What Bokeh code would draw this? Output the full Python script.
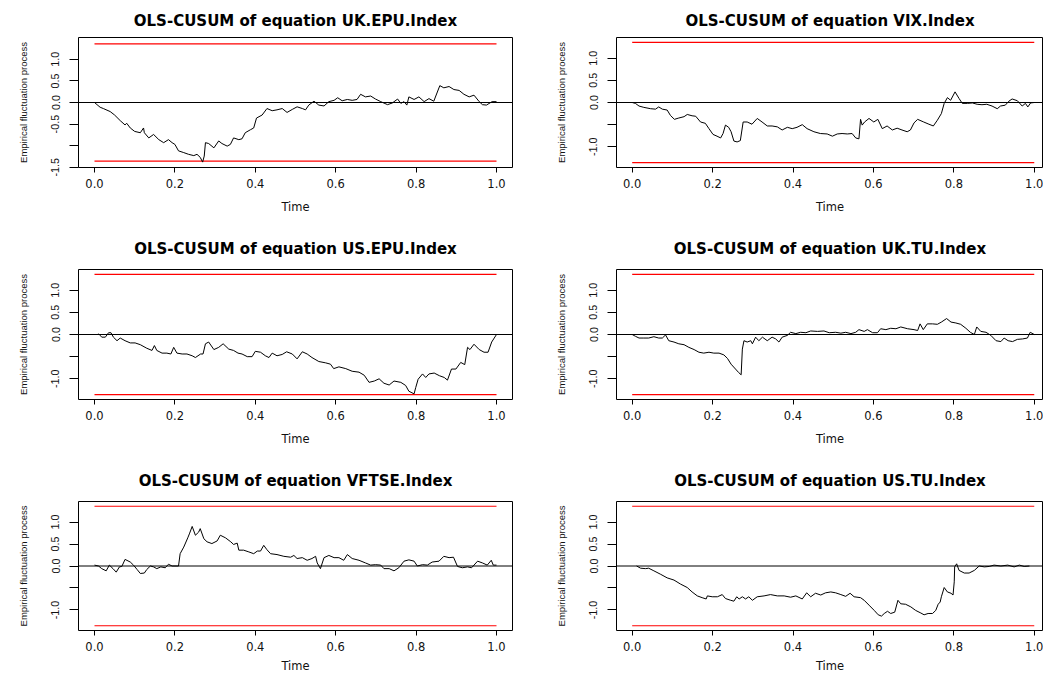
from bokeh.plotting import figure
from bokeh.layouts import column, row
from bokeh.models import FixedTicker, PrintfTickFormatter, Span, Range1d
from bokeh.embed import file_html
from bokeh.resources import INLINE

# ---------------- data ----------------
titles = ["OLS-CUSUM of equation UK.EPU.Index", "OLS-CUSUM of equation VIX.Index",
          "OLS-CUSUM of equation US.EPU.Index", "OLS-CUSUM of equation UK.TU.Index",
          "OLS-CUSUM of equation VFTSE.Index", "OLS-CUSUM of equation US.TU.Index"]
x_ticks = [0.0, 0.2, 0.4, 0.6, 0.8, 1.0]
boundary_t = [0.0, 1.0]
boundary_upper = [1.358, 1.358]
boundary_lower = [-1.358, -1.358]

t1 = [0.000, 0.014, 0.022, 0.039, 0.050, 0.064, 0.076, 0.080, 0.089, 0.100,
      0.114, 0.122, 0.124, 0.135, 0.147, 0.160, 0.172, 0.184, 0.193, 0.200,
      0.209, 0.222, 0.234, 0.247, 0.255, 0.263, 0.269, 0.273, 0.276, 0.284,
      0.297, 0.309, 0.317, 0.330, 0.338, 0.346, 0.359, 0.367, 0.375, 0.388,
      0.396, 0.403, 0.417, 0.429, 0.442, 0.454, 0.467, 0.479, 0.492, 0.504,
      0.517, 0.525, 0.533, 0.546, 0.558, 0.571, 0.583, 0.596, 0.605, 0.616,
      0.629, 0.641, 0.653, 0.662, 0.674, 0.687, 0.699, 0.712, 0.729, 0.741,
      0.754, 0.762, 0.770, 0.777, 0.782, 0.795, 0.807, 0.820, 0.832, 0.844,
      0.859, 0.869, 0.882, 0.894, 0.907, 0.919, 0.932, 0.944, 0.957, 0.965,
      0.975, 0.989, 1.000]
v1 = [0.00, -0.11, -0.14, -0.21, -0.29, -0.42, -0.52, -0.48, -0.59, -0.67,
      -0.70, -0.59, -0.70, -0.82, -0.74, -0.86, -0.93, -0.86, -0.93, -0.97,
      -1.12, -1.16, -1.20, -1.23, -1.20, -1.27, -1.38, -1.24, -0.93, -0.95,
      -1.05, -0.89, -0.95, -1.01, -0.97, -0.82, -0.86, -0.84, -0.70, -0.63,
      -0.59, -0.36, -0.29, -0.14, -0.19, -0.17, -0.14, -0.23, -0.16, -0.10,
      -0.14, -0.17, -0.06, 0.03, -0.06, -0.08, 0.02, 0.05, 0.11, 0.04,
      0.07, 0.05, 0.07, 0.19, 0.13, 0.15, 0.08, 0.02, -0.05, -0.01,
      0.08, -0.02, 0.02, -0.06, 0.13, 0.07, 0.13, 0.02, 0.09, 0.03,
      0.39, 0.34, 0.37, 0.30, 0.28, 0.19, 0.13, 0.17, 0.02, -0.05,
      -0.06, 0.02, 0.02]

t2 = [0.000, 0.008, 0.017, 0.029, 0.046, 0.058, 0.066, 0.075, 0.087, 0.095,
      0.105, 0.116, 0.129, 0.137, 0.149, 0.158, 0.170, 0.182, 0.191, 0.201,
      0.211, 0.220, 0.226, 0.232, 0.240, 0.246, 0.253, 0.261, 0.269, 0.276,
      0.286, 0.298, 0.311, 0.323, 0.336, 0.348, 0.361, 0.373, 0.386, 0.398,
      0.410, 0.423, 0.435, 0.452, 0.468, 0.485, 0.498, 0.510, 0.522, 0.535,
      0.547, 0.556, 0.564, 0.568, 0.572, 0.578, 0.589, 0.601, 0.611, 0.622,
      0.634, 0.647, 0.659, 0.671, 0.684, 0.692, 0.701, 0.710, 0.725, 0.738,
      0.749, 0.759, 0.769, 0.776, 0.784, 0.792, 0.803, 0.813, 0.821, 0.834,
      0.846, 0.858, 0.870, 0.882, 0.895, 0.908, 0.916, 0.928, 0.937, 0.945,
      0.958, 0.970, 0.978, 0.984, 0.991, 1.000]
v2 = [0.00, -0.02, -0.08, -0.11, -0.14, -0.15, -0.10, -0.15, -0.17, -0.29,
      -0.38, -0.35, -0.32, -0.27, -0.30, -0.31, -0.44, -0.47, -0.59, -0.72,
      -0.76, -0.80, -0.70, -0.51, -0.56, -0.66, -0.87, -0.89, -0.86, -0.44,
      -0.44, -0.49, -0.36, -0.44, -0.53, -0.53, -0.55, -0.62, -0.56, -0.59,
      -0.56, -0.50, -0.59, -0.66, -0.70, -0.71, -0.76, -0.71, -0.70, -0.71,
      -0.70, -0.80, -0.82, -0.38, -0.51, -0.44, -0.36, -0.44, -0.38, -0.59,
      -0.53, -0.62, -0.58, -0.62, -0.66, -0.62, -0.46, -0.38, -0.44, -0.49,
      -0.53, -0.40, -0.25, -0.02, 0.11, 0.05, 0.24, 0.09, -0.02, -0.02,
      -0.01, -0.04, -0.05, -0.04, -0.08, -0.14, -0.08, -0.06, 0.03, 0.08,
      0.04, -0.08, -0.02, -0.10, -0.01, 0.00]

t3 = [0.010, 0.018, 0.027, 0.035, 0.041, 0.047, 0.056, 0.064, 0.076, 0.089,
      0.101, 0.114, 0.130, 0.143, 0.149, 0.155, 0.168, 0.180, 0.190, 0.197,
      0.205, 0.218, 0.230, 0.243, 0.251, 0.264, 0.270, 0.276, 0.284, 0.297,
      0.309, 0.320, 0.334, 0.346, 0.357, 0.367, 0.380, 0.392, 0.400, 0.413,
      0.425, 0.434, 0.442, 0.454, 0.467, 0.478, 0.492, 0.504, 0.517, 0.529,
      0.541, 0.558, 0.575, 0.587, 0.595, 0.608, 0.625, 0.641, 0.658, 0.671,
      0.683, 0.696, 0.708, 0.720, 0.733, 0.745, 0.762, 0.774, 0.782, 0.795,
      0.799, 0.805, 0.816, 0.824, 0.832, 0.845, 0.858, 0.870, 0.878, 0.888,
      0.899, 0.911, 0.921, 0.928, 0.934, 0.944, 0.957, 0.969, 0.979, 0.988,
      1.000]
v3 = [0.02, -0.06, -0.06, 0.04, 0.04, -0.06, -0.14, -0.08, -0.14, -0.19,
      -0.19, -0.23, -0.31, -0.36, -0.25, -0.36, -0.42, -0.42, -0.44, -0.29,
      -0.42, -0.44, -0.44, -0.48, -0.52, -0.44, -0.44, -0.21, -0.17, -0.34,
      -0.29, -0.21, -0.33, -0.36, -0.42, -0.44, -0.50, -0.50, -0.38, -0.40,
      -0.48, -0.52, -0.42, -0.48, -0.45, -0.39, -0.44, -0.55, -0.39, -0.44,
      -0.52, -0.61, -0.64, -0.67, -0.77, -0.73, -0.77, -0.83, -0.85, -0.92,
      -1.08, -1.05, -1.00, -1.10, -1.14, -1.05, -1.08, -1.15, -1.28, -1.34,
      -1.20, -1.01, -0.89, -0.97, -0.89, -0.87, -0.93, -0.97, -1.03, -0.78,
      -0.78, -0.63, -0.68, -0.29, -0.34, -0.22, -0.34, -0.40, -0.40, -0.17,
      0.00]

t4 = [0.000, 0.008, 0.017, 0.029, 0.041, 0.054, 0.066, 0.075, 0.083, 0.091,
      0.104, 0.116, 0.129, 0.141, 0.154, 0.166, 0.178, 0.191, 0.203, 0.216,
      0.228, 0.237, 0.246, 0.257, 0.265, 0.271, 0.274, 0.278, 0.286, 0.295,
      0.299, 0.307, 0.315, 0.324, 0.336, 0.348, 0.357, 0.365, 0.373, 0.386,
      0.394, 0.407, 0.419, 0.432, 0.444, 0.461, 0.477, 0.490, 0.506, 0.519,
      0.531, 0.544, 0.556, 0.564, 0.577, 0.585, 0.598, 0.610, 0.618, 0.631,
      0.643, 0.656, 0.668, 0.685, 0.701, 0.710, 0.716, 0.724, 0.734, 0.747,
      0.759, 0.769, 0.782, 0.793, 0.805, 0.817, 0.830, 0.841, 0.851, 0.857,
      0.867, 0.880, 0.892, 0.905, 0.917, 0.925, 0.935, 0.946, 0.958, 0.971,
      0.983, 0.990, 1.000]
v4 = [0.00, -0.04, -0.08, -0.08, -0.08, -0.05, -0.08, -0.08, -0.01, -0.14,
      -0.17, -0.21, -0.23, -0.29, -0.34, -0.40, -0.42, -0.40, -0.42, -0.42,
      -0.46, -0.54, -0.67, -0.78, -0.86, -0.91, -0.33, -0.14, -0.17, -0.14,
      -0.21, -0.06, -0.14, -0.06, -0.14, -0.06, -0.10, -0.17, -0.06, -0.02,
      0.05, 0.02, 0.05, 0.04, 0.08, 0.07, 0.08, 0.04, 0.05, 0.03,
      0.05, 0.02, 0.05, 0.11, 0.07, 0.11, 0.04, 0.04, 0.13, 0.11,
      0.14, 0.13, 0.17, 0.13, 0.11, 0.09, 0.24, 0.11, 0.24, 0.24,
      0.23, 0.28, 0.36, 0.28, 0.26, 0.23, 0.14, 0.05, 0.00, 0.17,
      0.07, 0.05, -0.02, -0.14, -0.16, -0.08, -0.14, -0.16, -0.11, -0.10,
      -0.08, 0.05, 0.00]

t5 = [0.000, 0.010, 0.018, 0.029, 0.037, 0.046, 0.054, 0.062, 0.068, 0.076,
      0.089, 0.097, 0.106, 0.114, 0.124, 0.130, 0.139, 0.147, 0.155, 0.165,
      0.176, 0.184, 0.193, 0.209, 0.213, 0.222, 0.232, 0.236, 0.243, 0.251,
      0.259, 0.263, 0.272, 0.280, 0.292, 0.305, 0.313, 0.326, 0.339, 0.346,
      0.355, 0.359, 0.371, 0.384, 0.396, 0.405, 0.413, 0.421, 0.429, 0.438,
      0.454, 0.471, 0.488, 0.496, 0.504, 0.517, 0.529, 0.541, 0.550, 0.554,
      0.562, 0.571, 0.583, 0.596, 0.608, 0.620, 0.629, 0.641, 0.658, 0.674,
      0.687, 0.699, 0.712, 0.720, 0.733, 0.745, 0.757, 0.770, 0.782, 0.795,
      0.803, 0.816, 0.828, 0.840, 0.857, 0.869, 0.882, 0.893, 0.903, 0.915,
      0.928, 0.938, 0.953, 0.965, 0.977, 0.987, 0.992, 1.000]
v5 = [0.02, 0.00, -0.06, -0.11, 0.02, -0.06, -0.14, -0.02, -0.01, 0.15,
      0.09, 0.02, -0.08, -0.17, -0.16, -0.08, 0.00, -0.02, -0.06, -0.02,
      -0.04, 0.04, 0.00, 0.00, 0.28, 0.43, 0.64, 0.73, 0.90, 0.70,
      0.77, 0.85, 0.62, 0.55, 0.51, 0.57, 0.70, 0.64, 0.55, 0.49,
      0.52, 0.36, 0.36, 0.32, 0.28, 0.34, 0.34, 0.47, 0.37, 0.28,
      0.26, 0.22, 0.20, 0.24, 0.17, 0.19, 0.13, 0.17, 0.22, 0.07,
      -0.06, 0.19, 0.24, 0.19, 0.19, 0.13, 0.26, 0.17, 0.13, 0.07,
      0.02, 0.03, 0.02, -0.06, -0.06, -0.11, -0.04, 0.11, 0.14, 0.11,
      0.00, 0.03, 0.02, 0.09, 0.11, 0.22, 0.19, 0.20, -0.01, -0.04,
      -0.02, -0.04, 0.11, 0.07, 0.02, 0.13, 0.02, 0.02]

t6 = [0.011, 0.021, 0.033, 0.041, 0.054, 0.071, 0.087, 0.104, 0.120, 0.137,
      0.149, 0.162, 0.174, 0.184, 0.187, 0.199, 0.212, 0.224, 0.232, 0.245,
      0.253, 0.260, 0.266, 0.274, 0.282, 0.290, 0.299, 0.311, 0.328, 0.344,
      0.361, 0.378, 0.394, 0.407, 0.423, 0.434, 0.444, 0.456, 0.469, 0.481,
      0.494, 0.506, 0.519, 0.531, 0.542, 0.552, 0.568, 0.577, 0.589, 0.602,
      0.612, 0.620, 0.627, 0.635, 0.643, 0.653, 0.661, 0.668, 0.680, 0.693,
      0.705, 0.718, 0.726, 0.736, 0.747, 0.755, 0.761, 0.766, 0.769, 0.776,
      0.784, 0.793, 0.798, 0.801, 0.802, 0.807, 0.813, 0.826, 0.838, 0.851,
      0.863, 0.876, 0.888, 0.900, 0.917, 0.934, 0.950, 0.963, 0.975, 0.988]
v6 = [0.00, -0.05, -0.06, -0.05, -0.11, -0.19, -0.27, -0.32, -0.41, -0.49,
      -0.59, -0.68, -0.72, -0.75, -0.68, -0.70, -0.70, -0.65, -0.74, -0.78,
      -0.80, -0.70, -0.75, -0.70, -0.75, -0.70, -0.78, -0.70, -0.68, -0.65,
      -0.68, -0.68, -0.71, -0.68, -0.75, -0.61, -0.70, -0.62, -0.66, -0.61,
      -0.59, -0.61, -0.65, -0.69, -0.62, -0.70, -0.72, -0.78, -0.89, -1.01,
      -1.11, -1.14, -1.08, -1.03, -1.08, -1.05, -0.78, -0.86, -0.87, -0.93,
      -1.01, -1.07, -1.11, -1.08, -1.08, -1.01, -0.87, -0.82, -0.70, -0.49,
      -0.59, -0.62, -0.66, -0.36, -0.02, 0.05, -0.10, -0.16, -0.16, -0.10,
      0.00, -0.02, -0.01, 0.02, 0.00, 0.02, -0.02, 0.02, -0.01, 0.00]

y_ticks_a = [-1.5, -1.0, -0.5, 0.0, 0.5, 1.0]
y_ticks_b = [-1.0, -0.5, 0.0, 0.5, 1.0]
y_lims = [1.505, 1.467, 1.467, 1.467, 1.467, 1.467]

WIDE = "DejaVu Sans"
ARIAL = "Liberation Sans"


def panel(title, t, v, ylim, yticks, hide, left, rowi):
    if left:
        w, bl, br = 545, 78, 33
        xr = Range1d(-0.0398, 1.0398)
    else:
        w, bl, br = 498, 71, 0
        xr = Range1d(-0.039, 1.023)
    if rowi == 0:
        h, bt, bb, st = 225, 37, 58, 16
    elif rowi == 1:
        h, bt, bb, st = 232, 44, 58, 24
    else:
        h, bt, bb, st = 218, 44, 44, 24
    p = figure(width=w, height=h, x_range=xr, y_range=Range1d(-ylim, ylim),
               output_backend="svg", toolbar_location=None,
               min_border_left=bl, min_border_right=br,
               min_border_top=bt, min_border_bottom=bb)
    p.background_fill_color = "white"
    p.border_fill_color = "white"
    p.outline_line_color = "black"
    p.outline_line_width = 1
    p.xgrid.visible = False
    p.ygrid.visible = False

    p.title.text = title
    p.title.align = "center"
    p.title.text_font = WIDE
    p.title.text_font_style = "bold"
    p.title.text_font_size = "15px"
    p.title.text_color = "black"
    p.title.standoff = st

    for ax in (p.xaxis[0], p.yaxis[0]):
        ax.axis_line_color = None
        ax.major_tick_in = 0
        ax.major_tick_line_color = "black"
        ax.minor_tick_line_color = None
        ax.major_label_text_color = "#111111"
        ax.axis_label_text_font_style = "normal"
        ax.axis_label_text_color = "#111111"
        ax.formatter = PrintfTickFormatter(format="%.1f")

    xa = p.xaxis[0]
    xa.ticker = FixedTicker(ticks=x_ticks)
    xa.major_tick_out = 5
    xa.major_label_text_font = WIDE
    xa.major_label_text_font_size = "11.5px"
    xa.major_label_standoff = 6
    xa.axis_label = "Time"
    xa.axis_label_text_font = WIDE
    xa.axis_label_text_font_size = "11.5px"
    xa.axis_label_standoff = 5 if rowi == 2 else 9

    ya = p.yaxis[0]
    ya.ticker = FixedTicker(ticks=yticks)
    ya.major_label_overrides = {hide: ""}
    ya.major_label_orientation = "vertical"
    ya.major_tick_out = 9
    ya.major_label_text_font = ARIAL
    ya.major_label_text_font_size = "10.8px"
    ya.major_label_standoff = 10
    ya.axis_label = "Empirical fluctuation process"
    ya.axis_label_text_font = ARIAL
    ya.axis_label_text_font_size = "9.5px"
    ya.axis_label_standoff = 20

    p.add_layout(Span(location=0, dimension="width", line_color="black", line_width=1))
    p.line(boundary_t, boundary_upper, line_color="red", line_width=1.1)
    p.line(boundary_t, boundary_lower, line_color="red", line_width=1.1)
    p.line(t, v, line_color="black", line_width=1)
    return p


p1 = panel(titles[0], t1, v1, y_lims[0], y_ticks_a, -1.0, True, 0)
p2 = panel(titles[1], t2, v2, y_lims[1], y_ticks_b, -0.5, False, 0)
p3 = panel(titles[2], t3, v3, y_lims[2], y_ticks_b, -0.5, True, 1)
p4 = panel(titles[3], t4, v4, y_lims[3], y_ticks_b, -0.5, False, 1)
p5 = panel(titles[4], t5, v5, y_lims[4], y_ticks_b, -0.5, True, 2)
p6 = panel(titles[5], t6, v6, y_lims[5], y_ticks_b, -0.5, False, 2)

layout = column(row(p1, p2), row(p3, p4), row(p5, p6))

open("out.html", "w").write(file_html(layout, INLINE))
